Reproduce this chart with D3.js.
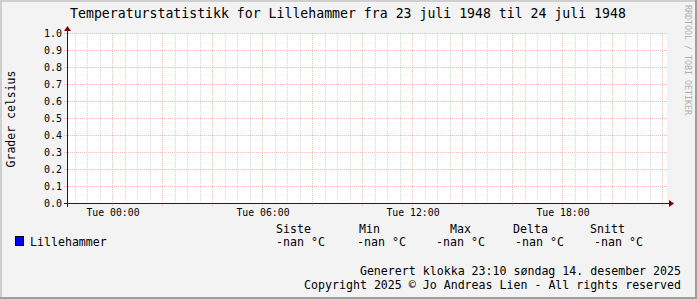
<!DOCTYPE html>
<html>
<head>
<meta charset="utf-8">
<script src="https://cdn.jsdelivr.net/npm/d3@7"></script>
<style>
  body { margin: 0; background: #f3f3f3; }
  svg text { font-family: "DejaVu Sans Mono", monospace; fill: #000; }
</style>
</head>
<body>
<div id="chart"></div>
<script>
// chart data
const title = "Temperaturstatistikk for Lillehammer fra 23 juli 1948 til 24 juli 1948";
const yLabel = "Grader celsius";
const timeRange = [-1.8, 22.2];          // hours relative to Tue 00:00
const tickHours = [0, 6, 12, 18];
const tickLabels = ["Tue 00:00", "Tue 06:00", "Tue 12:00", "Tue 18:00"];
const yTicks = [0, 0.1, 0.2, 0.3, 0.4, 0.5, 0.6, 0.7, 0.8, 0.9, 1.0];
const seriesName = "Lillehammer";
const seriesValues = [];                 // no data in the period -> all nan
const statNames = ["Siste", "Min", "Max", "Delta", "Snitt"];
const statValues = ["-nan °C", "-nan °C", "-nan °C", "-nan °C", "-nan °C"];
const footer = ["Generert klokka 23:10 søndag 14. desember 2025",
                "Copyright 2025 © Jo Andreas Lien - All rights reserved"];

const W = 697, H = 299;
const plot = {left: 67, right: 667, top: 33, bottom: 203};

const svg = d3.select("#chart").append("svg")
  .attr("width", W).attr("height", H);

// background + 3d border like rrdtool
svg.append("rect").attr("width", W).attr("height", H).attr("fill", "#f3f3f3");
svg.append("path").attr("d", `M0,${H} V0 H${W}`).attr("fill", "none")
  .attr("stroke", "#cfcfcf").attr("stroke-width", 4);
svg.append("path").attr("d", `M${W},0 V${H} H0`).attr("fill", "none")
  .attr("stroke", "#9e9e9e").attr("stroke-width", 4);

const x = d3.scaleLinear().domain(timeRange).range([plot.left, plot.right]);
const y = d3.scaleLinear().domain([0, 1]).range([plot.bottom, plot.top]);

svg.append("rect")
  .attr("x", plot.left).attr("y", plot.top)
  .attr("width", plot.right - plot.left).attr("height", plot.bottom - plot.top)
  .attr("fill", "#fff");

const g = svg.append("g");

// minor vertical grid every 30 min, major every 2h
const minorX = d3.range(Math.ceil(timeRange[0] * 2) / 2, timeRange[1], 0.5)
  .filter(h => h % 2 !== 0);
const majorX = d3.range(Math.ceil(timeRange[0] / 2) * 2, timeRange[1], 2);

g.selectAll(".minx").data(minorX).join("line")
  .attr("x1", d => Math.round(x(d)) + 0.5).attr("x2", d => Math.round(x(d)) + 0.5)
  .attr("y1", plot.top).attr("y2", plot.bottom + 2)
  .attr("stroke", "rgba(140,140,140,0.35)").attr("stroke-dasharray", "1,1");

g.selectAll(".majx").data(majorX).join("line")
  .attr("x1", d => Math.round(x(d)) + 0.5).attr("x2", d => Math.round(x(d)) + 0.5)
  .attr("y1", plot.top).attr("y2", plot.bottom + 3)
  .attr("stroke", "rgba(200,60,60,0.32)").attr("stroke-dasharray", "1,1");

g.selectAll(".majy").data(yTicks.filter(v => v > 0)).join("line")
  .attr("x1", plot.left - 3).attr("x2", plot.right + 1)
  .attr("y1", d => Math.round(y(d)) + 0.5).attr("y2", d => Math.round(y(d)) + 0.5)
  .attr("stroke", "rgba(200,60,60,0.32)").attr("stroke-dasharray", "1,1");

// series line (empty: all values nan)
const line = d3.line().defined(d => !isNaN(d[1])).x(d => x(d[0])).y(d => y(d[1]));
g.append("path").datum(seriesValues).attr("d", line)
  .attr("fill", "none").attr("stroke", "#0000ff");

// axes
svg.append("line")
  .attr("x1", plot.left - 3).attr("x2", plot.right + 3)
  .attr("y1", plot.bottom + 0.5).attr("y2", plot.bottom + 0.5)
  .attr("stroke", "#202020");
svg.append("line")
  .attr("x1", plot.left + 0.5).attr("x2", plot.left + 0.5)
  .attr("y1", plot.top - 3).attr("y2", plot.bottom + 4)
  .attr("stroke", "#202020");
svg.append("path")
  .attr("d", `M${plot.right + 2},${plot.bottom - 3} L${plot.right + 7},${plot.bottom + 0.5} L${plot.right + 2},${plot.bottom + 4} Z`)
  .attr("fill", "#7f0000");
svg.append("path")
  .attr("d", `M${plot.left - 3},${plot.top - 2} L${plot.left + 0.5},${plot.top - 7} L${plot.left + 4},${plot.top - 2} Z`)
  .attr("fill", "#7f0000");

// y tick labels
svg.selectAll(".ylab").data(yTicks).join("text")
  .attr("x", plot.left - 5).attr("y", d => y(d) + 3.5)
  .attr("text-anchor", "end").attr("font-size", "10px")
  .text(d => d.toFixed(1));

// x tick labels
svg.selectAll(".xlab").data(tickHours).join("text")
  .attr("x", d => x(d) + 1).attr("y", plot.bottom + 13)
  .attr("text-anchor", "middle").attr("font-size", "9.8px")
  .text((d, i) => tickLabels[i]);

// title
svg.append("text").attr("x", 348).attr("y", 18).attr("text-anchor", "middle")
  .attr("font-size", "13.2px").text(title);

// y axis title
svg.append("text")
  .attr("transform", `translate(15,${(plot.top + plot.bottom) / 2 + 1}) rotate(-90)`)
  .attr("text-anchor", "middle").attr("font-size", "11.5px").text(yLabel);

// watermark
svg.append("text")
  .attr("transform", "translate(685,5) rotate(90)")
  .attr("font-size", "8.3px").style("fill", "#b0b0b0")
  .text("RRDTOOL / TOBI OETIKER");

// legend
const statX = [276, 357, 436, 515, 594];
const headX = [276, 359, 450, 513, 590];
svg.selectAll(".shead").data(statNames).join("text")
  .attr("x", (d, i) => headX[i]).attr("y", 233).attr("font-size", "11.6px").text(d => d);
svg.selectAll(".sval").data(statValues).join("text")
  .attr("x", (d, i) => statX[i]).attr("y", 246).attr("font-size", "11.6px").text(d => d);

svg.append("rect").attr("x", 15.5).attr("y", 236.5).attr("width", 8).attr("height", 9)
  .attr("fill", "#0000ff").attr("stroke", "#000");
svg.append("text").attr("x", 30).attr("y", 246).attr("font-size", "11.6px").text(seriesName);

svg.selectAll(".foot").data(footer).join("text")
  .attr("x", 681).attr("y", (d, i) => 275 + i * 14)
  .attr("text-anchor", "end").attr("font-size", "11.6px").text(d => d);
</script>
</body>
</html>
